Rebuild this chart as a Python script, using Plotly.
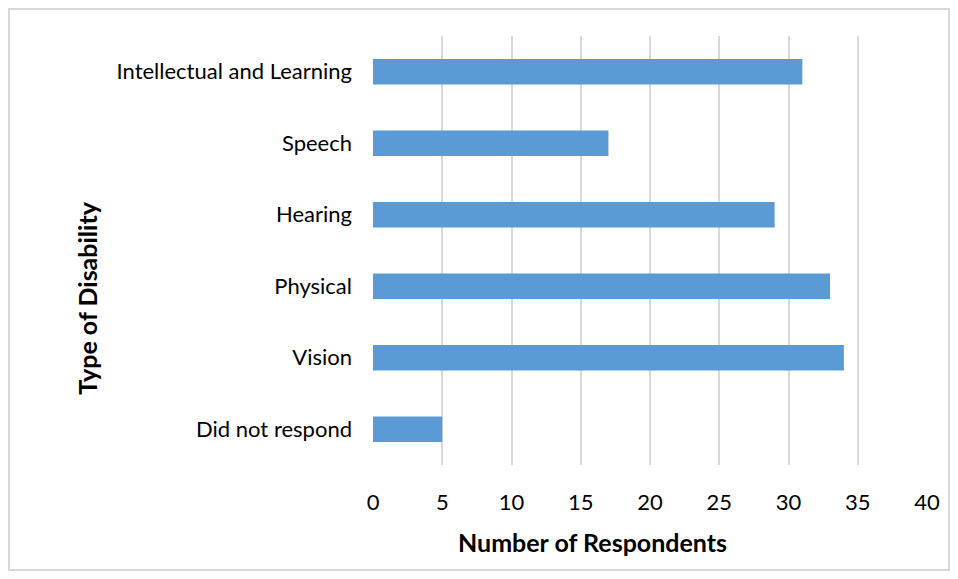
import plotly.graph_objects as go

categories = ["Did not respond", "Vision", "Physical", "Hearing", "Speech", "Intellectual and Learning"]
respondents = [5, 34, 33, 29, 17, 31]
x_ticks = [0, 5, 10, 15, 20, 25, 30, 35, 40]

font_family = "Lato, 'Open Sans', sans-serif"

fig = go.Figure()
fig.add_trace(go.Bar(x=respondents, y=categories, orientation="h",
                     marker=dict(color="#5b9bd5", line=dict(width=0)),
                     width=0.36))

# page body adds an 8px margin all round, so keep the figure inside the window
fig.update_layout(
    width=942, height=563,
    margin=dict(l=365, r=23, t=28, b=106),
    paper_bgcolor="white", plot_bgcolor="white",
    showlegend=False,
    font=dict(family=font_family, size=22, color="#000000"),
    xaxis=dict(range=[0, 40], tickvals=x_ticks, showgrid=True, gridcolor="#d9d9d9", gridwidth=2,
               zeroline=False, showline=False, ticks="", ticklabelstandoff=22, automargin=False,
               tickfont=dict(size=22)),
    yaxis=dict(range=[-0.5, 5.5], showgrid=False, zeroline=False, showline=False, ticks="",
               ticklabelstandoff=20, automargin=False, tickfont=dict(size=22)),
    shapes=[dict(type="rect", xref="paper", yref="paper", x0=-0.657, x1=1.0397, y0=-0.2448, y1=1.063,
                 line=dict(color="#d9d9d9", width=2), layer="below")],
    annotations=[
        dict(text="<b>Number of Respondents</b>", xref="paper", yref="paper", x=0.397, y=-0.1795,
             xanchor="center", yanchor="middle", showarrow=False, font=dict(size=25)),
        dict(text="<b>Type of Disability</b>", xref="paper", yref="paper", x=-0.516, y=0.39,
             xanchor="center", yanchor="middle", textangle=-90, showarrow=False, font=dict(size=25)),
    ],
)

fig.write_html("out.html")
